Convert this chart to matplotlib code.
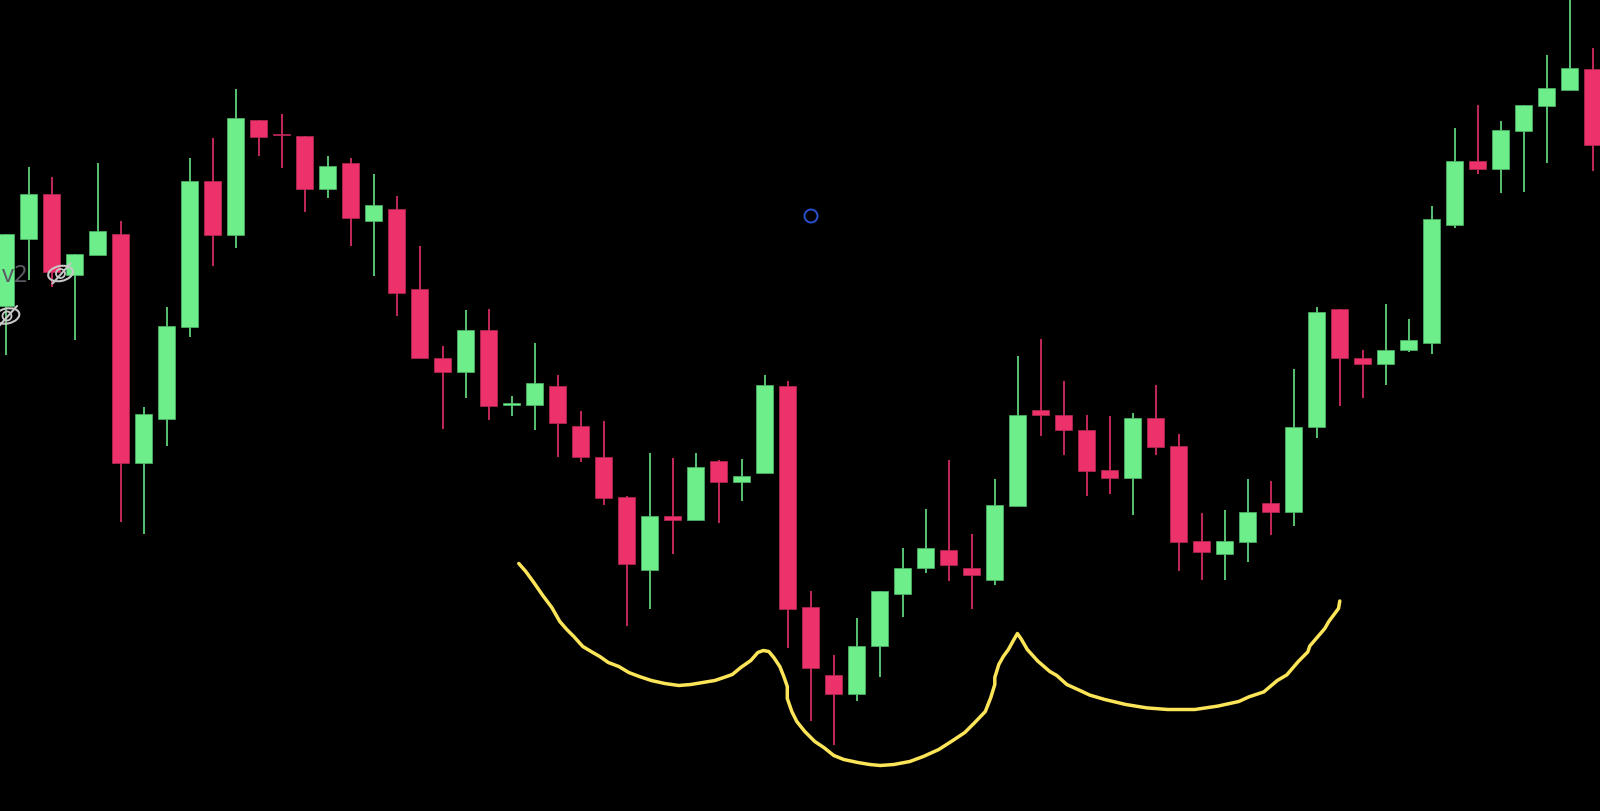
import numpy as np
import matplotlib
matplotlib.use("Agg")
import matplotlib.pyplot as plt
from matplotlib.patches import Ellipse

# Candle values on a level scale that grows downward
highs = [234.3,167.9,177.9,254.6,163.2,221.4,407.1,307.9,158.2,138.9,89.3,120.4,114.3,136.1,156.4,158.9,174.6,196,246,346,310,309.3,396,343,
         375.7,411.7,421.3,496,453.3,458.3,453.3,460,459.3,375,381,591,655,618,591.7,548.7,509.3,460.3,534.7,479.3,356.3,
         339.8,381,415.5,416.4,413.2,385.7,434.8,513.8,510.6,479.3,481.6,369.1,307.6,309.5,350.3,304,319.1,206.6,128.6,105.6,121.7,105.6,55.6,-5,48.7]
lows = [355.4,280.7,287.5,340.4,255.4,522.5,534.3,446.4,337.5,266.8,248.9,156.1,168.9,212.1,198.9,246.4,276.8,316.1,358.6,429.6,398.9,420.4,416,430.7,
        457,462.7,505.3,626.7,609.7,554.3,520.3,523.7,501.7,473,648.7,721,745.7,701,677.3,617.7,573.7,581.7,609.7,585.3,506.3,
        436.2,455.5,496.3,494.5,515.6,455,571.6,580.8,580.8,562.9,535.4,526.2,438.5,406.3,398.1,385.7,352.6,354,228.2,174.5,193.3,192.4,163.5,90.9,171.7]
body_top = [234.3,194.3,194.3,254.6,231,234.3,414.3,326.8,181,181,118.6,120.4,134.6,136.1,166.1,163.2,205.4,209.3,289.6,358.2,330.4,330.4,403.9,383.7,
            386.3,426.7,457.3,497.7,516.3,516,467,461,476,385.3,386.3,607.7,675.3,646.3,591.7,568.3,548.7,550.7,568.3,505.7,415.4,
            410.9,415.5,430.2,470.6,418.7,418.7,446.7,541.8,541.8,512.9,503.2,427,312.7,309.5,358.6,350.3,340.7,219,161.6,161.6,130.9,105.6,88.2,68.9,69.3]
body_bot = [306.4,239.3,272.1,275.4,255.4,463.9,463.9,419.3,327.1,235.7,235.7,137.5,135.7,189.3,189.3,218.2,221.8,293.9,358.6,372.5,372.5,406.1,405.4,405.3,
            423.7,457.7,498.3,564,570.3,520.3,520.3,482.7,482.7,473,609,668.7,694,694,646.7,594,568.3,565,575.7,580.7,506.2,
            415.5,430.7,471,478,478.9,447.2,542.2,552.3,554.6,542.2,512.9,512.9,427,358.6,364.1,364.1,350.8,343.4,225.4,169.9,169.9,131.3,106,90.9,145.1]
rising = list("GGRGGRGGGRGRRRGRGRRRGRGG"
              "RRRRGRGRGGRRRGGGGRRGG"
              "RRRRGRRRGGRGGRRGGGGRGGGGR")

# Hand-drawn yellow curve, image pixels
curve_x = [519,526,534,543,552,560,567,574,583,593,600,608.5,619,629,639.5,651.5,665,679,691,703,715,724,732.5,741,751,758,763.5,769,774,780,784,787.5,
           787.5,792,797,805,815,824,834,844,858,870,880.5,894,910,923.5,939,953,965,975,985.5,991,995,995,999,1003.5,1008.6,1013,1017.6,1021.7,1027.5,
           1038,1050,1057,1067,1078,1090,1105,1126,1147,1168,1195,1218,1239,1249,1264,1277.5,1287,1298.5,1308,1310,1325,1329,1338.7,1340]
curve_y = [564,572,583,596,608,622,630,637,647,653,657,663,667,673,677,681,684,686,685,683,681,678,675,668,661,653,651,652,658,667,677,687,
           699,712,722,732,742,748,756,760,763,765,766,765,762,757,750,741,733,723,712,698,685,678,665,657,650,642,634,640,650,
           661.6,672,676,685,690,695.6,700,705,708.4,710,710,706.6,702,697.4,692.4,681,675.4,662,652.4,646.5,629,622,609,601.5]

dw = 23.0
idx = np.arange(len(highs))
high = np.array(highs); low = np.array(lows)
top = np.array(body_top); bot = np.array(body_bot)
is_up = np.array([c == "G" for c in rising])

GREEN, RED = "#6EEE8B", "#EC316B"
GREEN_E, RED_E = "#4FB868", "#B82856"

fig = plt.figure(figsize=(16, 8.11), dpi=100, facecolor="black")
ax = fig.add_axes([0, 0, 1, 1], facecolor="black")
ax.set_xlim(-5.8 / dw, 1594.2 / dw)
ax.set_ylim(811.5, 0.5)
ax.axis("off")

for mask, col, edge in ((is_up, GREEN, GREEN_E), (~is_up, RED, RED_E)):
    ax.vlines(idx[mask], high[mask], low[mask], color=col, lw=1.15, zorder=2)
    ax.bar(idx[mask], np.maximum(bot[mask] - top[mask], 1.2), bottom=top[mask], width=0.75,
           color=col, edgecolor=edge, linewidth=0.5, zorder=3)

cx = (np.array(curve_x) - 6) / dw
ax.plot(cx, curve_y, color="#FCE558", lw=2.5, solid_capstyle="round", solid_joinstyle="round", zorder=5)

# Overlay decorations, placed in image pixels
fig.text(2 / 1600, 1 - 276 / 811, "v2", color="#5A5A64", fontsize=17, family="Noto Sans", va="center", ha="left", zorder=6)
ICON = "#C8C8C8"
ax2 = fig.add_axes([0, 0, 1, 1], facecolor="none", zorder=8)
ax2.set_xlim(0, 1600); ax2.set_ylim(811, 0); ax2.axis("off")
for ex, ey in ((60.5, 273.5), (7, 316)):
    ax2.add_patch(Ellipse((ex, ey), 25, 15, angle=-12, fill=False, ec=ICON, lw=1.5))
    ax2.add_patch(Ellipse((ex, ey), 9, 9, fill=False, ec=ICON, lw=1.3))
    ax2.plot([ex - 8, ex + 10], [ey + 10, ey - 10], color=ICON, lw=1.5, solid_capstyle="round")
ax2.add_patch(Ellipse((811, 216), 13, 13, fill=False, ec="#2A50D0", lw=1.4))
fig.savefig("out.png", dpi=100, facecolor="black")
